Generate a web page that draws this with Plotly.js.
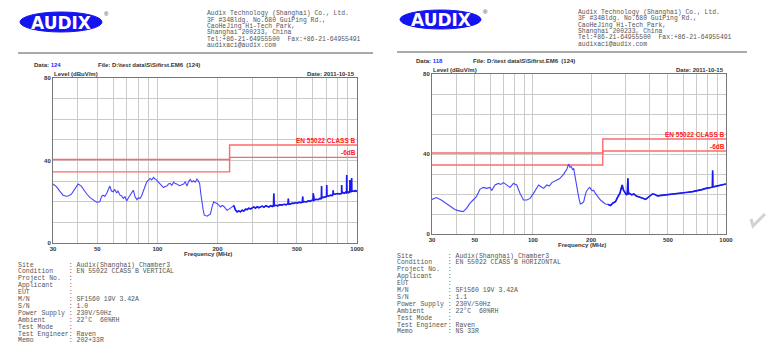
<!DOCTYPE html>
<html><head><meta charset="utf-8">
<script src="https://cdn.plot.ly/plotly-3.0.1.min.js"></script>
<style>html,body{margin:0;padding:0;background:#fff}#chart{width:781px;height:363px}</style>
</head><body><div id="chart"></div><script>
const W = 781, H = 363;
const px = x => x / W, py = y => 1 - y / H;

// ---------- data ----------
const limitFreq    = [30, 230, 230, 1000];
const limitClassB  = [40.5, 40.5, 47.5, 47.5];
const limitMinus6  = [34.5, 34.5, 41.5, 41.5];

const xTickVals = [30, 40, 50, 60, 70, 80, 90, 100, 200, 300, 400, 500, 600, 700, 800, 900, 1000];
const xTickText = ['30', '', '50', '', '', '', '', '100', '200', '', '', '500', '', '', '', '', '1000'];
const yTickVals = [0, 10, 20, 30, 40, 50, 60, 70, 80];
const yTickText = ['0', '', '', '', '40', '', '', '', '80'];

// Vertical polarization (left)
const vertFreq = [
  30, 31.2, 32.5, 33.7, 35.0, 36.0, 37.1, 38.6, 40.1, 41.6,
  43.0, 44.1, 46.0, 47.7, 49.6, 51.5, 52.5, 53.5, 54.5, 55.7,
  56.8, 57.8, 58.9, 60.1, 61.0, 62.5, 63.5, 65.0, 66.2, 67.5,
  68.8, 70.2, 71.5, 72.9, 74.3, 75.8, 77.3, 79.0, 80.4, 81.9,
  83.5, 85.1, 86.8, 88.5, 90.2, 91.9, 93.7, 95.6, 97.4, 99.3,
  101.2, 103.2, 105.2, 107.3, 109.4, 111.5, 113.7, 115.9, 118.2, 120.5,
  122.8, 125.2, 129.0, 132.7, 135.3, 137.9, 139.2, 140.6, 143.4, 146.2,
  149.0, 151.9, 154.9, 157.9, 160.4, 162.8, 165.0, 167.3, 169.6, 171.9,
  174.6, 177.3, 180.8, 184.3, 187.9, 191.5, 195.2, 199.0, 203.0, 206.9,
  211.0, 215.0, 219.2, 223.5, 227.9, 232.3, 236.8, 241.4, 246.1, 250.9,
  255.8, 260.8, 266.0, 271.0, 276.5, 281.8, 287.0, 293.0, 298.5, 304.4,
  310, 316, 322.5, 328.9, 335, 342, 348.5, 355.2, 362, 369,
  376.5, 380, 381.5, 383, 384.5, 392, 401, 410, 420, 431,
  441, 449, 451.5, 453, 454.5, 462, 473, 484, 494, 504,
  513, 522.7, 532, 534.5, 536, 546, 558, 570, 582, 596,
  600, 602.5, 604, 605.5, 610, 624, 638, 652, 660, 663,
  664.5, 665.5, 672, 686, 700, 703.5, 705, 706.5, 715, 724,
  739.8, 750, 758, 760, 762, 770, 785, 799.4, 815, 830,
  836.5, 838, 839.5, 850, 862, 875, 886.5, 888, 889.5, 900,
  910, 920.5, 922, 923.5, 933, 938.5, 940, 941.5, 955, 970,
  980, 990, 1000
];
const vertLevel = [
  28.6, 27.3, 25.0, 23.2, 22.7, 22.9, 23.7, 26.5, 28.6, 27.6,
  25.5, 24.0, 22.0, 20.8, 19.8, 20.0, 22.5, 23.2, 22.6, 24.0,
  25.8, 27.6, 25.2, 24.8, 26.0, 24.3, 25.2, 23.2, 22.8, 21.6,
  22.4, 20.4, 21.8, 23.2, 24.0, 25.6, 22.4, 21.0, 22.0, 21.6,
  23.0, 24.8, 27.5, 29.7, 30.5, 31.3, 30.6, 31.8, 31.0, 30.5,
  29.5, 28.6, 27.5, 26.9, 27.4, 27.6, 28.6, 28.9, 28.0, 29.5,
  28.8, 28.6, 27.8, 28.1, 28.6, 29.7, 28.5, 27.6, 29.8, 30.8,
  29.6, 30.2, 29.5, 31.0, 30.0, 28.9, 24.0, 19.2, 16.0, 13.5,
  13.4, 13.0, 13.6, 14.0, 17.5, 20.0, 19.5, 19.2, 18.4, 17.5,
  18.2, 17.8, 16.8, 15.9, 16.3, 16.7, 17.5, 18.2, 16.0, 15.1,
  15.6, 15.1, 15.9, 15.5, 16.4, 16.2, 16.9, 16.5, 17.2, 17.5,
  16.9, 17.6, 17.1, 17.5, 17.9, 17.3, 18.0, 17.8, 17.4, 18.1,
  17.7, 18.0, 17.8, 24.0, 18.0, 18.3, 18.0, 18.6, 18.4, 18.8,
  18.5, 19.0, 18.9, 21.5, 19.0, 18.8, 19.3, 19.2, 19.6, 19.3,
  19.8, 19.5, 19.7, 22.5, 19.8, 20.1, 19.9, 20.4, 20.2, 20.8,
  20.5, 20.6, 24.1, 20.8, 20.8, 21.2, 21.0, 21.6, 21.4, 21.8,
  27.6, 22.0, 22.0, 22.3, 22.6, 22.5, 28.1, 22.8, 22.7, 23.0,
  23.2, 23.0, 23.4, 25.5, 23.5, 23.6, 23.9, 24.0, 23.8, 24.2,
  24.0, 28.1, 24.2, 24.5, 24.1, 24.6, 24.3, 33.0, 24.5, 24.8,
  24.4, 24.9, 30.5, 24.8, 25.1, 24.7, 31.5, 25.0, 25.2, 25.0,
  25.4, 25.1, 25.3
];

// Horizontal polarization (right)
const horFreq = [
  30, 31.6, 33.5, 36.3, 39.4, 41.0, 43.5, 45.3, 47.1, 49.0,
  51.0, 53.1, 55.3, 57.5, 59.9, 61.1, 63.6, 66.2, 68.2, 70.3,
  73.1, 76.1, 79.2, 82.4, 85.8, 89.3, 92.9, 96.7, 100.7, 103.8,
  106.9, 110.2, 113.5, 118.1, 121.5, 125.3, 129.2, 133.1, 137.2, 141.3,
  144.2, 147.0, 150.0, 153.1, 155.5, 158.0, 160.3, 162.5, 165.8, 168.5,
  171.2, 173.6, 176.0, 179.5, 183.2, 186.2, 189.1, 193.0, 196.8, 202.4,
  206.5, 210.7, 217.0, 223.7, 230.5, 237.5, 244.8, 252.1, 259.8, 267.7,
  275.0, 282.0, 286.0, 290.0, 294.0, 298.1, 302.0, 305.4, 308.0, 310.3,
  312.5, 316.6, 325.0, 333.5, 343.0, 354.0, 368.0, 383.6, 399.0, 415.5,
  428.0, 441.1, 463.0, 487.2, 510.0, 540.0, 571.8, 600.0, 635.0, 670.9,
  710.0, 750.0, 786.9, 820.0, 845.0, 850.0, 852.6, 855.0, 869.7, 900.0,
  940.0, 970.0, 1000
];
const horLevel = [
  17.3, 18.2, 17.0, 14.5, 12.3, 11.7, 11.2, 12.8, 15.3, 17.0,
  18.7, 22.3, 23.3, 22.8, 23.3, 21.7, 24.5, 25.3, 24.8, 25.7,
  24.5, 23.3, 25.3, 24.5, 20.3, 17.0, 17.0, 17.8, 20.3, 22.5,
  24.5, 23.6, 22.8, 24.5, 24.0, 25.7, 26.2, 27.0, 27.6, 28.7,
  29.8, 31.2, 32.5, 35.0, 33.4, 33.7, 32.2, 32.8, 27.0, 23.5,
  20.3, 17.2, 15.0, 15.4, 16.2, 19.0, 21.3, 22.5, 23.3, 21.7,
  21.8, 20.3, 18.5, 17.0, 16.0, 15.0, 14.8, 14.2, 15.5, 16.2,
  18.5, 20.3, 22.5, 24.5, 22.0, 21.3, 20.5, 19.5, 20.2, 27.8,
  20.1, 20.3, 19.6, 20.0, 19.0, 18.7, 18.0, 17.3, 18.5, 20.0,
  19.8, 19.0, 19.3, 19.5, 19.8, 19.9, 20.3, 20.6, 20.9, 21.2,
  21.6, 22.2, 22.8, 23.2, 23.3, 23.4, 31.7, 23.6, 23.7, 24.0,
  24.3, 24.6, 25.0
];

// text content
const companyLines = [
  "Audix Technology (Shanghai) Co., Ltd.",
  "3F #34Bldg. No.680 GuiPing Rd.,",
  "CaoHeJing Hi-Tech Park,",
  "Shanghai 200233, China",
  "Tel:+86-21-64955500  Fax:+86-21-64955491",
  "audixaci@audix.com"
];
const infoLabels = ["Site", "Condition", "Project No.", "Applicant", "EUT", "M/N", "S/N",
  "Power Supply", "Ambient", "Test Mode", "Test Engineer", "Memo"];
const infoLeft = ["Audix(Shanghai) Chamber3", "EN 55022 CLASS B VERTICAL", "", "", "",
  "SF1560 19V 3.42A", "1.0", "230V/50Hz", "22\u00b0C  60%RH", "", "Raven", "202+33R"];
const infoRight = ["Audix(Shanghai) Chamber3", "EN 55022 CLASS B HORIZONTAL", "", "", "",
  "SF1560 19V 3.42A", "1.1", "230V/50Hz", "22\u00b0C  60%RH", "", "Raven", "NS 33R"];
const dataNo = ["124", "118"];
const fileName = "File: D:\\test data\\S\\Sifirst.EM6  (124)";
const dateText = "Date: 2011-10-15";
const levelTitle = "Level (dBuV/m)";
const freqTitle = "Frequency (MHz)";
const limitName = "EN 55022 CLASS B";
const marginName = "-6dB";

// ---------- layout geometry ----------
const P = [
  {l: 53, r: 357, t: 78, b: 243},
  {l: 432, r: 726, t: 74, b: 234}
];
const nb = s => s.replace(/ /g, '\u00a0');
const monoFam = 'Liberation Mono, Courier New, monospace';
const monoAddr = {family: monoFam, size: 6.4, color: '#555'};
const monoInfo = {family: monoFam, size: 6.5, color: '#555'};
const sans = {family: 'Liberation Sans, Arial, sans-serif', size: 6, color: '#333'};

const traces = [];
const annotations = [];
const shapes = [];
const layout = {
  width: W, height: H, autosize: false,
  margin: {l: 0, r: 0, t: 0, b: 0},
  paper_bgcolor: '#fff', plot_bgcolor: '#fff',
  showlegend: false
};

const series = [[vertFreq, vertLevel], [horFreq, horLevel]];
P.forEach((p, i) => {
  const xa = i === 0 ? 'x' : 'x2', ya = i === 0 ? 'y' : 'y2';
  const xk = i === 0 ? 'xaxis' : 'xaxis2', yk = i === 0 ? 'yaxis' : 'yaxis2';
  layout[xk] = {
    type: 'log', domain: [px(p.l), px(p.r)], anchor: ya,
    range: [Math.log10(30), Math.log10(1000)],
    tickmode: 'array', tickvals: xTickVals, ticktext: xTickText,
    showgrid: true, gridcolor: '#cacaca', gridwidth: 1,
    showline: true, mirror: true, linecolor: '#777', linewidth: 1,
    ticks: '', zeroline: false,
    tickfont: {family: sans.family, size: 6, color: '#333', weight: 'bold'}
  };
  layout[yk] = {
    domain: [py(p.b), py(p.t)], anchor: xa, range: [0, 80],
    tickmode: 'array', tickvals: yTickVals, ticktext: yTickText,
    showgrid: true, gridcolor: '#cacaca', gridwidth: 1,
    showline: true, mirror: true, linecolor: '#777', linewidth: 1,
    ticks: '', zeroline: false,
    tickfont: {family: sans.family, size: 6, color: '#333', weight: 'bold'}
  };
  traces.push({x: limitFreq, y: limitClassB, xaxis: xa, yaxis: ya, mode: 'lines',
    line: {color: 'rgb(255,105,105)', width: 1.4}, hoverinfo: 'skip'});
  traces.push({x: limitFreq, y: limitMinus6, xaxis: xa, yaxis: ya, mode: 'lines',
    line: {color: 'rgb(255,105,105)', width: 1.4}, hoverinfo: 'skip'});
  const fr = series[i][0], lv = series[i][1];
  traces.push({x: fr, y: lv, xaxis: xa, yaxis: ya, mode: 'lines',
    line: {color: 'rgb(70,70,255)', width: 1.1}});
  // dense scan band above ~240 MHz drawn heavier
  const idx = fr.map((f, k) => k).filter(k => fr[k] >= 240);
  traces.push({x: idx.map(k => fr[k]), y: idx.map(k => lv[k]), xaxis: xa, yaxis: ya, mode: 'lines',
    line: {color: 'rgb(25,25,240)', width: 1.6}});

  annotations.push({xref: xa + ' domain', yref: ya, x: 1, y: limitClassB[3], xanchor: 'right', yanchor: 'bottom',
    text: '<b>' + limitName + '</b>', showarrow: false, font: {family: sans.family, size: 6.5, color: '#ff2020'}, borderpad: 0});
  annotations.push({xref: xa + ' domain', yref: ya, x: 1, y: limitMinus6[3], xanchor: 'right', yanchor: 'bottom',
    text: '<b>' + marginName + '</b>', showarrow: false, font: {family: sans.family, size: 6.5, color: '#ff2020'}, borderpad: 0});

  // titles
  annotations.push({xref: 'paper', yref: 'paper', x: px(p.l - 1), y: py(p.t - 4), xanchor: 'left', yanchor: 'middle',
    text: '<b>' + levelTitle + '</b>', showarrow: false, font: sans});
  annotations.push({xref: 'paper', yref: 'paper', x: px(p.r), y: py(p.t - 4), xanchor: 'right', yanchor: 'middle',
    text: '<b>' + dateText + '</b>', showarrow: false, font: sans});
  annotations.push({xref: 'paper', yref: 'paper', x: px((p.l + p.r) / 2 + 3), y: py(p.b + 10.5), xanchor: 'center', yanchor: 'middle',
    text: '<b>' + freqTitle + '</b>', showarrow: false, font: sans});
});

// headers
const hdr = [
  {logoL: 20, logoR: 102, logoT: 12, logoB: 32, addrX: 206, addrY: 14, lineL: 18, lineR: 373, lineY: 53, dataX: 32, fileX: 96, dataY: 65, infoX: 17, infoY: 265},
  {logoL: 400, logoR: 481, logoT: 10, logoB: 29, addrX: 577, addrY: 12.5, lineL: 397, lineR: 747, lineY: 52, dataX: 414, fileX: 471, dataY: 61, infoX: 396, infoY: 256}
];
hdr.forEach((h, i) => {
  shapes.push({type: 'circle', xref: 'paper', yref: 'paper', x0: px(h.logoL), x1: px(h.logoR), y0: py(h.logoB), y1: py(h.logoT),
    fillcolor: '#1414f0', line: {color: '#1414f0', width: 1}});
  annotations.push({xref: 'paper', yref: 'paper', x: px((h.logoL + h.logoR) / 2), y: py((h.logoT + h.logoB) / 2 + 0.5),
    xanchor: 'center', yanchor: 'middle', showarrow: false, text: '<b>AUDIX</b>',
    font: {family: 'DejaVu Sans, Arial, sans-serif', size: 17, color: '#fff'}});
  annotations.push({xref: 'paper', yref: 'paper', x: px(h.logoR + 4), y: py(h.logoT + 2), xanchor: 'center', yanchor: 'middle',
    showarrow: false, text: '\u00ae', font: {family: sans.family, size: 6, color: '#333'}});
  companyLines.forEach((t, k) => {
    annotations.push({xref: 'paper', yref: 'paper', x: px(h.addrX), y: py(h.addrY + k * 6.3), xanchor: 'left', yanchor: 'middle',
      showarrow: false, text: nb(t), font: monoAddr, borderpad: 0});
  });
  shapes.push({type: 'line', xref: 'paper', yref: 'paper', x0: px(h.lineL), x1: px(h.lineR), y0: py(h.lineY), y1: py(h.lineY),
    line: {color: '#555', width: 1}});
  annotations.push({xref: 'paper', yref: 'paper', x: px(h.dataX), y: py(h.dataY), xanchor: 'left', yanchor: 'middle', showarrow: false,
    text: '<b>Data: <span style="color:#2a2aff">' + dataNo[i] + '</span></b>', font: sans});
  annotations.push({xref: 'paper', yref: 'paper', x: px(h.fileX), y: py(h.dataY), xanchor: 'left', yanchor: 'middle', showarrow: false,
    text: '<b>' + nb(fileName) + '</b>', font: sans});
  const vals = i === 0 ? infoLeft : infoRight;
  infoLabels.forEach((lab, k) => {
    const line = lab.padEnd(13, ' ') + ': ' + vals[k];
    annotations.push({xref: 'paper', yref: 'paper', x: px(h.infoX), y: py(h.infoY + k * 6.9), xanchor: 'left', yanchor: 'middle',
      showarrow: false, text: nb(line), font: monoInfo, borderpad: 0});
  });
});

// check mark at right margin
shapes.push({type: 'path', xref: 'paper', yref: 'paper',
  path: 'M ' + px(751) + ' ' + py(219) + ' L ' + px(753) + ' ' + py(226) + ' L ' + px(765) + ' ' + py(214),
  line: {color: '#d2d2d2', width: 3}});

layout.annotations = annotations;
layout.shapes = shapes;
Plotly.newPlot('chart', traces, layout, {staticPlot: true, displayModeBar: false});
</script></body></html>
